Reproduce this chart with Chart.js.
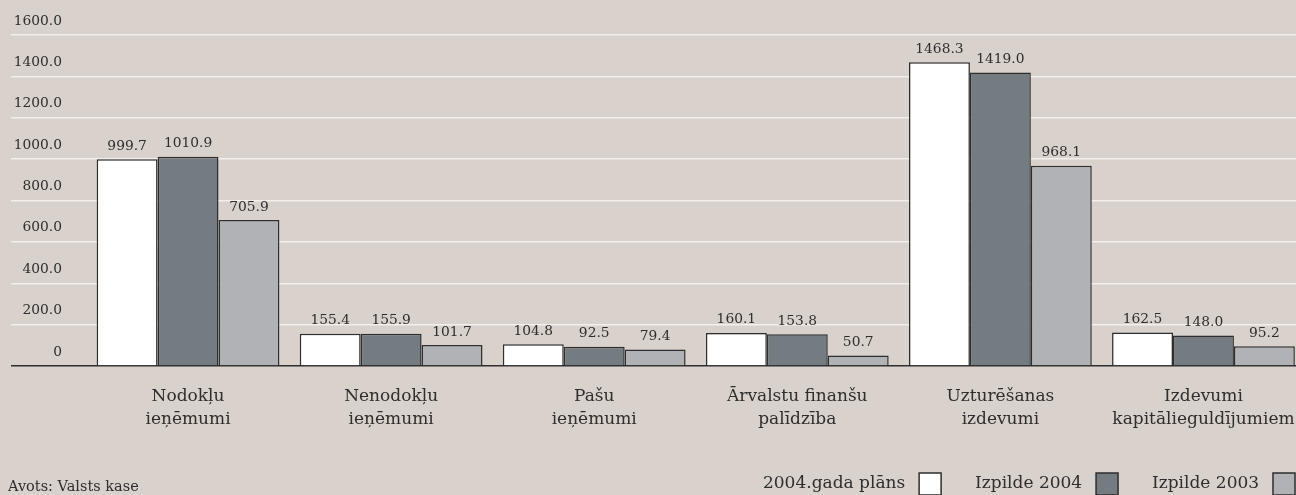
<!DOCTYPE html>
<html>
<head>
<meta charset="utf-8">
<script src="https://cdn.jsdelivr.net/npm/chart.js@4/dist/chart.umd.min.js"></script>
<style>
  html, body { margin: 0; padding: 0; background: #d9d1cb; overflow: hidden; width: 1296px; height: 495px; }
  canvas { display: block; }
</style>
</head>
<body>
<canvas id="c" width="1329" height="505"></canvas>
<script>
const categories = [
  ['Nodokļu', 'ieņēmumi'],
  ['Nenodokļu', 'ieņēmumi'],
  ['Pašu', 'ieņēmumi'],
  ['Ārvalstu finanšu', 'palīdzība'],
  ['Uzturēšanas', 'izdevumi'],
  ['Izdevumi', 'kapitālieguldījumiem']
];
const seriesNames = ['2004.gada plāns', 'Izpilde 2004', 'Izpilde 2003'];
const plan2004 = [999.7, 155.4, 104.8, 160.1, 1468.3, 162.5];
const actual2004 = [1010.9, 155.9, 92.5, 153.8, 1419.0, 148.0];
const actual2003 = [705.9, 101.7, 79.4, 50.7, 968.1, 95.2];
const yTicks = [0, 200, 400, 600, 800, 1000, 1200, 1400, 1600];
const sourceText = 'Avots: Valsts kase';

const FONT = '"DejaVu Serif", serif';
const TEXT = '#2e2e2e';
const BORDER = '#2e2e2e';
const colors = ['#ffffff', '#747b81', '#b1b2b6'];

const valueLabels = {
  id: 'valueLabels',
  afterDatasetsDraw(chart) {
    const ctx = chart.ctx;
    ctx.save();
    ctx.font = '13.8px ' + FONT;
    ctx.fillStyle = TEXT;
    ctx.textAlign = 'center';
    ctx.textBaseline = 'middle';
    chart.data.datasets.forEach((ds, i) => {
      chart.getDatasetMeta(i).data.forEach((el, j) => {
        ctx.fillText(ds.data[j].toFixed(1), el.x, el.y - 13);
      });
    });
    ctx.restore();
  }
};

const sourceNote = {
  id: 'sourceNote',
  afterDraw(chart) {
    const ctx = chart.ctx;
    ctx.save();
    ctx.font = '14.5px ' + FONT;
    ctx.fillStyle = TEXT;
    ctx.textAlign = 'left';
    ctx.textBaseline = 'middle';
    ctx.fillText(sourceText, 8, 487);
    ctx.restore();
  }
};

new Chart(document.getElementById('c'), {
  type: 'bar',
  data: {
    labels: categories,
    datasets: [plan2004, actual2004, actual2003].map((d, i) => ({
      label: seriesNames[i],
      data: d,
      backgroundColor: colors[i],
      borderColor: BORDER,
      borderWidth: 1.5,
      categoryPercentage: 0.9,
      barPercentage: 1.0
    }))
  },
  options: {
    responsive: false,
    animation: false,
    devicePixelRatio: 1,
    layout: { padding: { left: 11, top: 35, right: 0, bottom: 0 } },
    plugins: {
      tooltip: { enabled: false },
      legend: {
        position: 'bottom',
        align: 'start',
        rtl: true,
        reverse: true,
        labels: {
          font: { family: FONT, size: 17 },
          color: TEXT,
          boxWidth: 22,
          boxHeight: 22,
          padding: 34,
          generateLabels(chart) {
            return Chart.defaults.plugins.legend.labels.generateLabels(chart)
              .map(l => Object.assign(l, { text: l.text + ' ', lineWidth: 1.5, strokeStyle: BORDER }));
          }
        }
      }
    },
    scales: {
      x: {
        grid: { display: false, drawTicks: false },
        border: { display: false },
        ticks: {
          font: { family: FONT, size: 17, lineHeight: 1.37 },
          color: TEXT,
          padding: 19,
          maxRotation: 0,
          autoSkip: false
        },
        afterFit(s) { s.height = 73; }
      },
      y: {
        min: 0,
        max: 1600,
        afterBuildTicks(s) { s.ticks = yTicks.map(v => ({ value: v })); },
        grid: {
          color: c => (c.tick && c.tick.value === 0) ? BORDER : '#f3efec',
          lineWidth: c => (c.tick && c.tick.value === 0) ? 1.5 : 1.4,
          tickLength: 75.5,
          drawTicks: true
        },
        border: { display: false },
        ticks: {
          font: { family: FONT, size: 13.8 },
          color: TEXT,
          crossAlign: 'near',
          padding: -51,
          labelOffset: -14,
          callback: v => v === 0 ? '0' : v.toFixed(1)
        },
        afterFit(s) { s.width = 75.5; }
      },
      yR: {
        position: 'right',
        display: true,
        min: 0,
        max: 1600,
        grid: { display: false, drawTicks: false },
        border: { display: false },
        ticks: { display: false },
        afterFit(s) { s.width = 24; }
      }
    }
  },
  plugins: [valueLabels, sourceNote]
});
</script>
</body>
</html>
